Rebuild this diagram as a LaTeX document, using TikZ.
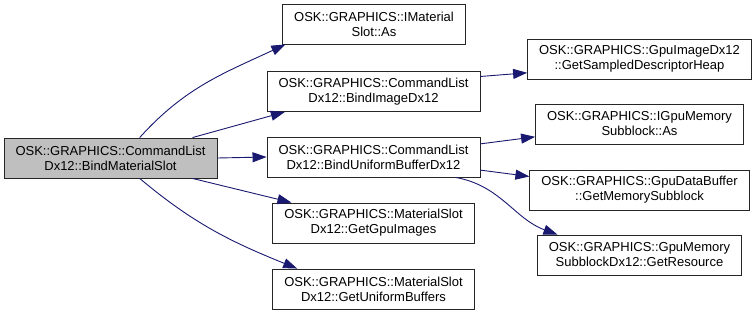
\documentclass[tikz,border=0pt]{standalone}
\usepackage{fontspec}
\setmainfont{Liberation Sans}
\usetikzlibrary{arrows.meta}

\definecolor{edgeblue}{RGB}{25,25,112}
\definecolor{rootgray}{RGB}{191,191,191}

\begin{document}
\begin{tikzpicture}[x=1pt,y=1pt,
		fn/.style={draw=black!85, line width=0.9pt, fill=white, align=center,
			font=\fontsize{13}{15}\selectfont, inner xsep=11.5pt, inner ysep=0pt,
			minimum height=40pt},
		rootfn/.style={fn, fill=rootgray},
		call/.style={draw=edgeblue, line width=0.9pt,
			-{Triangle[length=14pt,width=10pt]}}]
				\useasboundingbox (0,0) rectangle (756,-313);
				% caller
				\node [rootfn] (bindslot) at (110.5,-158) {OSK::GRAPHICS::CommandList\\Dx12::BindMaterialSlot};
				% first level of callees
				\node [fn] (slotas) at (374,-24) {OSK::GRAPHICS::IMaterial\\Slot::As};
				\node [fn] (bindimage) at (373.5,-91.5) {OSK::GRAPHICS::CommandList\\Dx12::BindImageDx12};
				\node [fn] (bindubuf) at (373.5,-157) {OSK::GRAPHICS::CommandList\\Dx12::BindUniformBufferDx12};
				\node [fn] (gpuimages) at (373.5,-223) {OSK::GRAPHICS::MaterialSlot\\Dx12::GetGpuImages};
				\node [fn] (ubuffers) at (373.5,-289) {OSK::GRAPHICS::MaterialSlot\\Dx12::GetUniformBuffers};
				% second level
				\node [fn] (heap) at (639.5,-59) {OSK::GRAPHICS::GpuImageDx12\\::GetSampledDescriptorHeap};
				\node [fn] (subas) at (639.5,-124) {OSK::GRAPHICS::IGpuMemory\\Subblock::As};
				\node [fn] (memsub) at (639.5,-190) {OSK::GRAPHICS::GpuDataBuffer\\::GetMemorySubblock};
				\node [fn] (resource) at (639.5,-255) {OSK::GRAPHICS::GpuMemory\\SubblockDx12::GetResource};
				% calls
				\draw [call] (bindslot.35) to[out=48,in=205] (slotas.193);
				\draw [call] (bindslot.14) -- (bindimage.193);
				\draw [call] (bindslot.east) -- (bindubuf.west);
				\draw [call] (bindslot.-14) -- (gpuimages.166);
				\draw [call] (bindslot.-35) to[out=-40,in=158] (ubuffers.165);
				\draw [call] (bindimage.8) -- (heap.187);
				\draw [call] (bindubuf.7) -- (subas.187);
				\draw [call] (bindubuf.-7) -- (memsub.173);
				\draw [call] (bindubuf.-14) to[out=-10,in=160] (resource.166);
\end{tikzpicture}
\end{document}
